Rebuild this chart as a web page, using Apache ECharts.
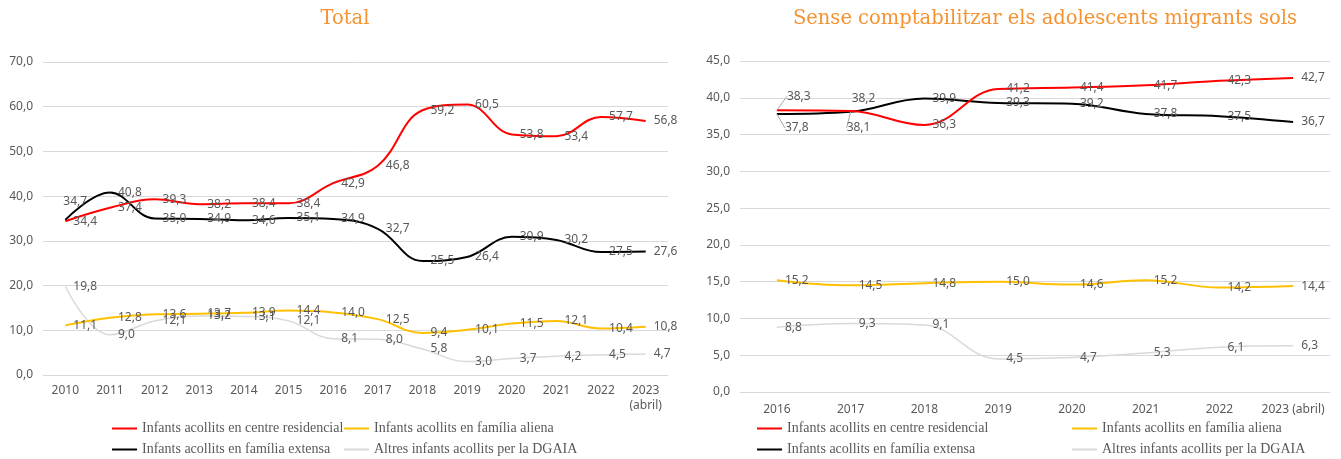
<!DOCTYPE html>
<html>
<head>
<meta charset="utf-8">
<script src="https://cdn.jsdelivr.net/npm/echarts@6/dist/echarts.min.js"></script>
<style>
html,body{margin:0;padding:0;background:#fff;}
#c{width:1341px;height:459px;}
</style>
</head>
<body>
<div id="c"></div>
<script>
const yearsTotal = ['2010','2011','2012','2013','2014','2015','2016','2017','2018','2019','2020','2021','2022','2023\n(abril)'];
const totResidencial = [34.4,37.4,39.3,38.2,38.4,38.4,42.9,46.8,59.2,60.5,53.8,53.4,57.7,56.8];
const totExtensa = [34.7,40.8,35.0,34.9,34.6,35.1,34.9,32.7,25.5,26.4,30.9,30.2,27.5,27.6];
const totAliena = [11.1,12.8,13.6,13.7,13.9,14.4,14.0,12.5,9.4,10.1,11.5,12.1,10.4,10.8];
const totAltres = [19.8,9.0,12.1,13.2,13.1,12.1,8.1,8.0,5.8,3.0,3.7,4.2,4.5,4.7];

const yearsSense = ['2016','2017','2018','2019','2020','2021','2022','2023 (abril)'];
const senResidencial = [38.3,38.2,36.3,41.2,41.4,41.7,42.3,42.7];
const senExtensa = [37.8,38.1,39.9,39.3,39.2,37.8,37.5,36.7];
const senAliena = [15.2,14.5,14.8,15.0,14.6,15.2,14.2,14.4];
const senAltres = [8.8,9.3,9.1,4.5,4.7,5.3,6.1,6.3];

const N1 = 'Infants acollits en centre residencial';
const N2 = 'Infants acollits en família aliena';
const N3 = 'Infants acollits en família extensa';
const N4 = 'Altres infants acollits per la DGAIA';

const fmt = v => Number(v).toFixed(1).replace('.', ',');
const GREY = '#595959';
const SANS = 'Noto Sans';
const SERIF = 'DejaVu Serif';
const LSERIF = 'Liberation Serif';

function mkSeries(name, data, color, width, gi, moves, lines) {
  const s = {
    type: 'line', name: name, xAxisIndex: gi, yAxisIndex: gi,
    data: data.map((v, i) => (lines && lines[i]) ? {value: v, labelLine: {show: true, lineStyle: {color: '#a6a6a6', width: 1}}} : v),
    smooth: 0.4, symbol: 'circle', symbolSize: 0, showSymbol: true,
    lineStyle: {color: color, width: width},
    itemStyle: {color: color},
    label: {show: true, position: 'right', distance: 8, color: GREY, fontSize: 12, fontFamily: SANS,
      formatter: p => fmt(p.value)},
    z: 3
  };
  if (moves) {
    s.labelLayout = p => moves[p.dataIndex] ? {dx: moves[p.dataIndex][0], dy: moves[p.dataIndex][1]} : {};
  }
  return s;
}

function mkLegend(left, names) {
  return {
    orient: 'vertical', left: left, top: 421, height: 60, padding: 0, itemGap: 6, itemWidth: 25, itemHeight: 2,
    icon: 'rect',
    textStyle: {fontFamily: LSERIF, fontSize: 14, color: GREY, lineHeight: 15},
    data: names
  };
}

const yAxisCommon = {
  type: 'value', min: 0,
  axisLine: {show: false}, axisTick: {show: false},
  splitLine: {lineStyle: {color: '#d9d9d9', width: 1}},
  axisLabel: {color: GREY, fontSize: 12, fontFamily: SANS, formatter: v => fmt(v), margin: 10}
};
const xAxisCommon = {
  type: 'category', boundaryGap: true,
  axisLine: {show: true, lineStyle: {color: '#d9d9d9'}}, axisTick: {show: false},
  axisLabel: {color: GREY, fontSize: 12, fontFamily: SANS, margin: 8, interval: 0, lineHeight: 15}
};

const option = {
  animation: false,
  backgroundColor: '#fff',
  title: [
    {text: 'Total', left: 340, textAlign: 'center', top: 4,
      textStyle: {color: '#F59331', fontFamily: SERIF, fontSize: 19.5, fontWeight: 'normal'}},
    {text: 'Sense comptabilitzar els adolescents migrants sols', left: 1040, textAlign: 'center', top: 4,
      textStyle: {color: '#F59331', fontFamily: SERIF, fontSize: 19.5, fontWeight: 'normal'}}
  ],
  legend: [
    mkLegend(112, [N1, N3]),
    mkLegend(344, [N2, N4]),
    mkLegend(757, [N1, N3]),
    mkLegend(1072, [N2, N4])
  ],
  grid: [
    {left: 43, top: 62, width: 625, height: 313},
    {left: 740, top: 61, width: 590, height: 331}
  ],
  xAxis: [
    Object.assign({}, xAxisCommon, {gridIndex: 0, data: yearsTotal}),
    Object.assign({}, xAxisCommon, {gridIndex: 1, data: yearsSense, axisLabel: Object.assign({}, xAxisCommon.axisLabel, {margin: 10})})
  ],
  yAxis: [
    Object.assign({}, yAxisCommon, {gridIndex: 0, max: 70, interval: 10}),
    Object.assign({}, yAxisCommon, {gridIndex: 1, max: 45, interval: 5})
  ],
  series: [
    mkSeries(N4, totAltres, '#d9d9d9', 1.5, 0),
    mkSeries(N2, totAliena, '#FFC000', 2, 0),
    mkSeries(N3, totExtensa, '#000000', 2, 0, {0: [-10, -18]}),
    mkSeries(N1, totResidencial, '#FF0000', 2, 0),
    mkSeries(N4, senAltres, '#d9d9d9', 1.5, 1),
    mkSeries(N2, senAliena, '#FFC000', 2, 1),
    mkSeries(N3, senExtensa, '#000000', 2, 1, {0: [0, 14], 1: [-12, 16]}, {0: true, 1: true}),
    mkSeries(N1, senResidencial, '#FF0000', 2, 1, {0: [2, -14], 1: [-7, -12]}, {0: true})
  ]
};

const chart = echarts.init(document.getElementById('c'), null, {renderer: 'canvas'});
chart.setOption(option);
</script>
</body>
</html>
